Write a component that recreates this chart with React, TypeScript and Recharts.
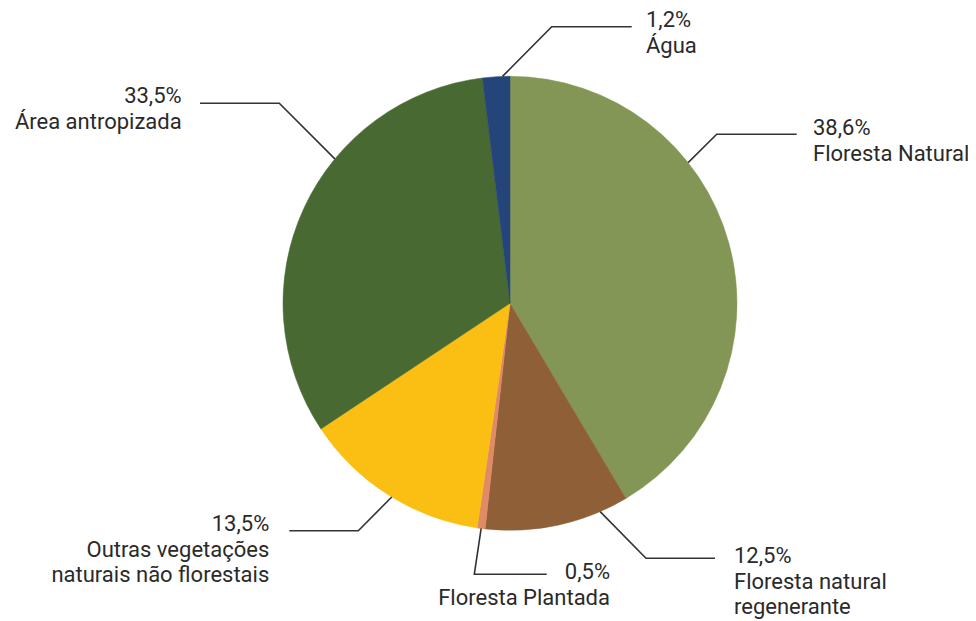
import { PieChart, Pie, Cell } from "recharts";

// slice shares (the printed labels differ slightly)
const categories = [
  "Floresta Natural",
  "Floresta natural regenerante",
  "Floresta Plantada",
  "Outras vegetações naturais não florestais",
  "Área antropizada",
  "Água",
];
const shares = [41.47, 10.28, 0.56, 13.36, 32.39, 1.94];
const printedPct = [38.6, 12.5, 0.5, 13.5, 33.5, 1.2];
const labelLines = [
  ["Floresta Natural"],
  ["Floresta natural", "regenerante"],
  ["Floresta Plantada"],
  ["Outras vegetações", "naturais não florestais"],
  ["Área antropizada"],
  ["Água"],
];
const colors = ["#849656", "#8f6038", "#e08a66", "#fbbf13", "#486a32", "#25457a"];

// leader line / label placement (svg coords)
const labelLayout = [
  { angle: 38.3, elbow: [708.7, 126.3], endX: 788.7, textX: 805, anchor: "start", y: 127 },
  { angle: -66.6, elbow: [638, 550.3], endX: 707, textX: 726, anchor: "start", y: 555.3 },
  { angle: -97.3, elbow: [466.3, 566.3], endX: 538.7, textX: 602, anchor: "end", y: 571 },
  { angle: -121.4, elbow: [350.3, 522.7], endX: 281.3, textX: 261.3, anchor: "end", y: 523 },
  { angle: 140.5, elbow: [271.3, 95.3], endX: 192, textX: 173.7, anchor: "end", y: 95.3 },
  { angle: 91.9, elbow: [543.7, 18.7], endX: 623.7, textX: 638, anchor: "start", y: 19.3 },
];

const data = categories.map((name, i) => ({ name, share: shares[i] }));

const RAD = Math.PI / 180;
const LINE_H = 25.5;

const renderLabel = (props: any) => {
  const { cx, cy, outerRadius, index } = props;
  const l = labelLayout[index];
  const x0 = cx + outerRadius * Math.cos(l.angle * RAD);
  const y0 = cy - outerRadius * Math.sin(l.angle * RAD);
  const [ex, ey] = l.elbow;
  const pct = printedPct[index].toFixed(1).replace(".", ",") + "%";
  const lines = [pct, ...labelLines[index]];
  return (
    <g key={"lbl-" + index}>
      <polyline
        points={`${x0},${y0} ${ex},${ey} ${l.endX},${ey}`}
        fill="none"
        stroke="#333"
        strokeWidth={1.6}
      />
      <text
        x={l.textX}
        y={l.y}
        textAnchor={l.anchor}
        fill="#2a2a2a"
        fontSize={22}
        fontFamily="Roboto, sans-serif"
      >
        {lines.map((t, j) => (
          <tspan key={j} x={l.textX} y={l.y + j * LINE_H}>
            {t}
          </tspan>
        ))}
      </text>
    </g>
  );
};

export default function App() {
  return (
    <div style={{ width: 976, height: 621, background: "#fff" }}>
      <PieChart width={976} height={621} margin={{ top: 0, right: 0, bottom: 0, left: 0 }}>
        <Pie
          data={data}
          dataKey="share"
          nameKey="name"
          cx={502}
          cy={295.3}
          outerRadius={227}
          startAngle={90}
          endAngle={-270}
          label={renderLabel}
          labelLine={false}
          isAnimationActive={false}
        >
          {data.map((d, i) => (
            <Cell key={d.name} fill={colors[i]} stroke={colors[i]} strokeWidth={0.5} />
          ))}
        </Pie>
      </PieChart>
    </div>
  );
}
